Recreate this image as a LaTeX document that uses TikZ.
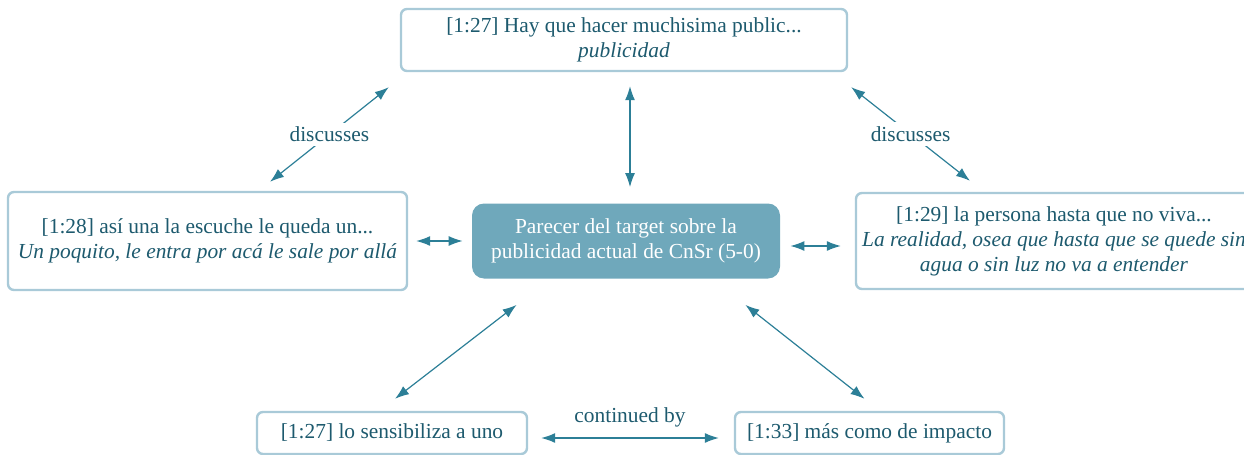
\documentclass[tikz,border=0pt]{standalone}
\usepackage{fontspec}
\setmainfont{Liberation Serif}
\usetikzlibrary{arrows.meta}
\definecolor{ink}{HTML}{1D5A6E}
\definecolor{frame}{HTML}{A9CAD8}
\definecolor{core}{HTML}{6FA8BB}
\definecolor{linkc}{HTML}{2C7F97}

\begin{document}
\begin{tikzpicture}[x=0.5pt,y=-0.5pt,font=\fontsize{10.7}{12.5}\selectfont,
  quote/.style={draw=frame,line width=1.2pt,rounded corners=3pt,fill=white,text=ink,align=center,inner sep=0pt},
  topic/.style={fill=core,rounded corners=6pt,text=white,align=center,inner sep=0pt},
  rel/.style={draw=linkc,line width=0.6pt,{Latex[length=7pt,width=5pt]}-{Latex[length=7pt,width=5pt]}},
  tag/.style={fill=white,text=ink,inner sep=2pt}]
  \useasboundingbox (0,0) rectangle (1244,455);
  % the code in the middle
  \node[topic,minimum width=154pt,minimum height=37.5pt] (code) at (626,241)
    {Parecer del target sobre la\\publicidad actual de CnSr (5-0)};
  % quotations
  \node[quote,minimum width=223pt,minimum height=31pt] (q127) at (624,40)
    {[1:27] Hay que hacer muchisima public...\\\textit{publicidad}};
  \node[quote,minimum width=199.5pt,minimum height=49pt] (q128) at (207.5,241)
    {[1:28] así una la escuche le queda un...\\\textit{Un poquito, le entra por acá le sale por allá}};
  \node[quote,minimum width=198pt,minimum height=48pt] (q129) at (1054,241)
    {[1:29] la persona hasta que no viva...\\\textit{La realidad, osea que hasta que se quede sin}\\\textit{agua o sin luz no va a entender}};
  \node[quote,minimum width=135pt,minimum height=21pt] (sens) at (392,433)
    {[1:27] lo sensibiliza a uno};
  \node[quote,minimum width=134.5pt,minimum height=21pt] (imp) at (869.5,433)
    {[1:33] más como de impacto};
  % links
  \draw[rel] ([shift={(6,14)}]q127.south) -- ([shift={(4,-16)}]code.north);
  \draw[rel] ([shift={(-11,15)}]q127.south west) -- node[tag] {discusses} ([shift={(62.5,-9)}]q128.north);
  \draw[rel] ([shift={(3,15)}]q127.south east) -- node[tag] {discusses} ([shift={(-84,-11)}]q129.north);
  \draw[rel] ([xshift=4pt]q128.east) -- ([xshift=-4.5pt]code.west);
  \draw[rel] ([shift={(10,5)}]code.east) -- ([shift={(-14,5)}]q129.west);
  \draw[rel] ([shift={(45,26)}]code.south west) -- ([shift={(3,-12)}]sens.north);
  \draw[rel] ([shift={(-35,26)}]code.south east) -- ([shift={(-5,-12)}]imp.north);
  \draw[rel] ([shift={(13,5)}]sens.east) -- node[above=2pt,text=ink] {continued by} ([shift={(-15,5)}]imp.west);
\end{tikzpicture}
\end{document}
